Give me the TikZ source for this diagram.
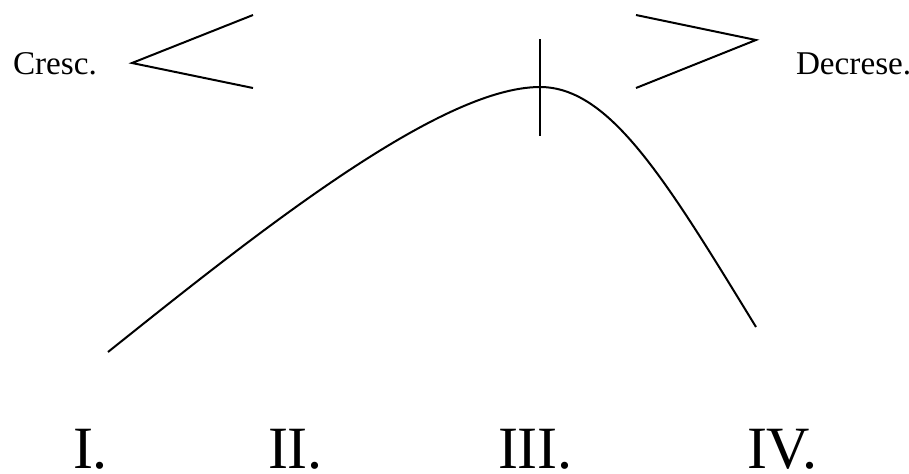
\documentclass[tikz,border=0pt]{standalone}
\usepackage{fontspec}
\setmainfont{LiberationSerif}[Extension=.ttf, UprightFont=*-Regular, BoldFont=*-Bold]
\usepackage{tikz}

\begin{document}
\begin{tikzpicture}[
    x=0.5pt, y=-0.5pt,
    line width=1pt,
    every node/.style={inner sep=0pt, anchor=base west},
    dyn/.style={font=\fontsize{16.6}{20}\selectfont},
    part/.style={font=\fontsize{30}{36}\selectfont}
  ]
    \useasboundingbox (0,0) rectangle (909,473);

    % dynamics
    \node[dyn] (cresc) at (12,74) {Cresc.};
    \draw (253,15) -- (132,63) -- (253,88);
    \draw (636,15) -- (756,40) -- (636,88);
    \node[dyn] (decr) at (795,74) {Decrese.};

    % the arc of the piece
    \coordinate (peak) at (540,87);
    \draw (108,352) .. controls (258,232) and (440,87) .. (peak)
      .. controls (610,87) and (666,180) .. (756,327);
    \draw (540,39) -- (540,136);

    % parts
    \node[part] (p1) at (72,468) {I.};
    \node[part] (p2) at (267,468) {II.};
    \node[part] (p3) at (497,468) {III.};
    \node[part] (p4) at (746,468) {IV.};
  \end{tikzpicture}
\end{document}
